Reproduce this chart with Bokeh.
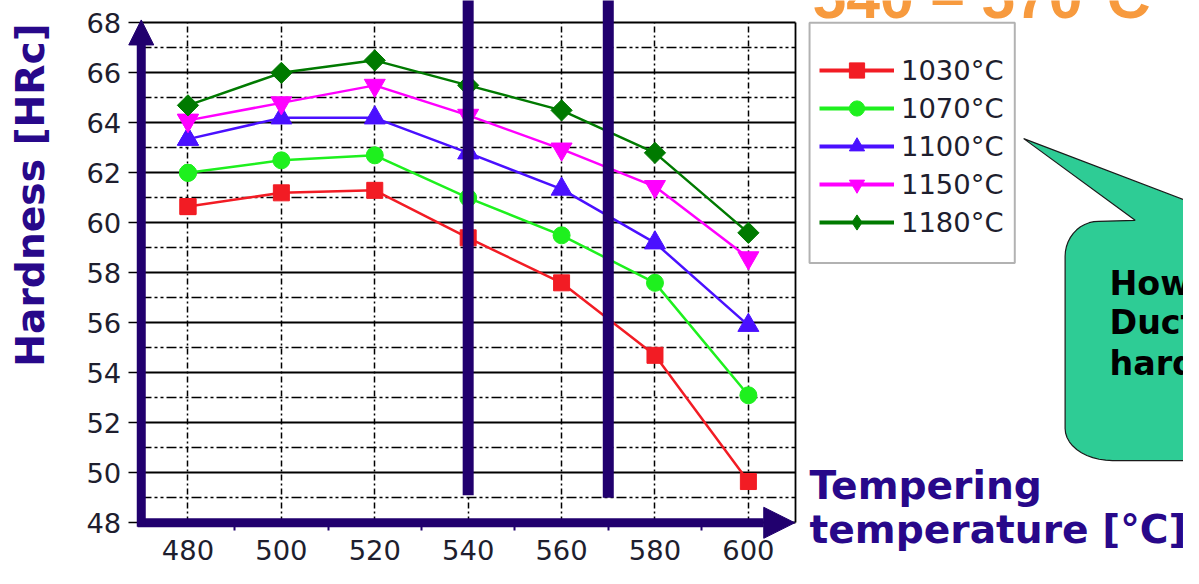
import numpy as np
from bokeh.plotting import figure
from bokeh.models import (Range1d, FixedTicker, Grid, Legend, LegendItem, Label,
                          BoxAnnotation, Arrow, NormalHead, CDSView, IndexFilter,
                          ColumnDataSource)
from bokeh.embed import file_html
from bokeh.resources import INLINE

# ---------------- data ----------------
temps = [480, 500, 520, 540, 560, 580, 600]
h_1030 = [60.65, 61.2, 61.3, 59.4, 57.6, 54.7, 49.65]
h_1070 = [62.0, 62.5, 62.7, 61.0, 59.5, 57.6, 53.1]
h_1100 = [63.35, 64.2, 64.2, 62.8, 61.35, 59.2, 55.9]
h_1150 = [64.1, 64.8, 65.5, 64.3, 62.95, 61.45, 58.6]
h_1180 = [64.7, 66.0, 66.5, 65.5, 64.5, 62.8, 59.6]
series_labels = ["1030°C", "1070°C", "1100°C", "1150°C", "1180°C"]

x_ticks = [480, 500, 520, 540, 560, 580, 600]
x_minor = [490, 510, 530, 550, 570, 590]
y_ticks = [48, 50, 52, 54, 56, 58, 60, 62, 64, 66, 68]
y_minor = [49, 51, 53, 55, 57, 59, 61, 63, 65, 67]

window_x = [540, 570]
window_bottom = [49.1, 49.0]

title_text = "540 – 570°C"
bubble_lines = ["How", "Duct", "hard"]
y_label = "Hardness [HRc]"
x_label_lines = ["Tempering", "temperature [°C]"]

# ---------------- layout helpers ----------------
# reference picture is 1199x584; the figure is scaled down to fit the window
REF_W, REF_H = 1199, 584
W, H = 1183, 568
SX, SY = W / REF_W, H / REF_H
S = (SX + SY) / 2
X_LO, X_HI, Y_LO, Y_HI = 470, 610, 48, 68
# mapping of data to reference-picture pixels
X_REF, X_REF_PX, PX_PER_X = 480, 190, 568 / 120
Y_REF, Y_REF_PX, PX_PER_Y = 68, 23, 25.7
BASE_SHIFT = 0.35  # anchor offset (in em) of a label's baseline


def fx(px):
    return X_REF + (px - X_REF_PX) / PX_PER_X


def fy(py):
    return Y_REF - (py - Y_REF_PX) / PX_PER_Y


def fs(px):
    return f"{px * S:.1f}px"


NAVY = "#21006e"
TEXT_NAVY = "#28088a"
TICK_TXT = "#1e1e2e"
TICK_FONT = "DejaVu Sans"

p = figure(width=W, height=H,
           x_range=Range1d(fx(0), fx(REF_W)), y_range=Range1d(fy(REF_H), fy(0)),
           output_backend="svg", toolbar_location=None,
           min_border_left=0, min_border_right=0, min_border_top=0, min_border_bottom=0,
           outline_line_color=None, background_fill_color="white")

# ---------------- axes ----------------
p.xaxis.fixed_location = Y_LO
p.xaxis.ticker = FixedTicker(ticks=x_ticks, minor_ticks=x_minor)
p.xaxis.axis_line_color = None
p.xaxis.major_tick_out = 0
p.xaxis.major_tick_in = 0
p.xaxis.minor_tick_out = 8
p.xaxis.minor_tick_in = 0
p.xaxis.minor_tick_line_color = NAVY
p.xaxis.minor_tick_line_width = 2
p.xaxis.major_label_standoff = 9
p.xaxis.major_label_text_font = TICK_FONT
p.xaxis.major_label_text_font_size = fs(28)
p.xaxis.major_label_text_color = TICK_TXT

p.yaxis.fixed_location = X_LO
p.yaxis.ticker = FixedTicker(ticks=y_ticks)
p.yaxis.axis_line_color = None
p.yaxis.major_tick_out = 13
p.yaxis.major_tick_in = 0
p.yaxis.major_tick_line_color = "black"
p.yaxis.major_tick_line_width = 1.5
p.yaxis.minor_tick_out = 0
p.yaxis.minor_tick_in = 0
p.yaxis.major_label_standoff = 7
p.yaxis.major_label_text_font = TICK_FONT
p.yaxis.major_label_text_font_size = fs(28)
p.yaxis.major_label_text_color = TICK_TXT

# ---------------- grids ----------------
p.xgrid.ticker = FixedTicker(ticks=x_ticks)
p.xgrid.grid_line_color = "black"
p.xgrid.grid_line_width = 1.5
p.xgrid.grid_line_dash = "6 3 2 3"
p.xgrid.cross_bounds = (Y_LO, Y_HI)

p.ygrid.ticker = FixedTicker(ticks=y_ticks, minor_ticks=y_minor)
p.ygrid.grid_line_color = "black"
p.ygrid.grid_line_width = 1.8
p.ygrid.minor_grid_line_color = "black"
p.ygrid.minor_grid_line_width = 1.5
p.ygrid.minor_grid_line_dash = "10 3 3 3 3 3"
p.ygrid.cross_bounds = (X_LO, X_HI)

border = Grid(dimension=0, ticker=FixedTicker(ticks=[X_HI]), grid_line_color="black",
              grid_line_width=1.8, cross_bounds=(Y_LO, Y_HI))
p.add_layout(border)

# ---------------- series ----------------
colors = ["#f21c24", "#1ef01e", "#4a10ff", "#ff00ff", "#007a00"]
markers = ["square", "circle", "triangle", "inverted_triangle", "square"]
legend_markers = ["square", "circle", "triangle", "inverted_triangle", "diamond"]
sizes = [16, 17, 21, 21, 15]
angles = [0, 0, 0, 0, np.pi / 4]
series = [h_1030, h_1070, h_1100, h_1150, h_1180]

items = []
for ys, lbl, c, m, lm, s, a in zip(series, series_labels, colors, markers,
                                   legend_markers, sizes, angles):
    src = ColumnDataSource(dict(x=temps, y=ys))
    p.line("x", "y", source=src, line_color=c, line_width=2.5)
    # legend proxies: thicker line and upright marker, restricted to the first
    # point so they stay hidden in the plot itself
    pl = p.line("x", "y", source=src, view=CDSView(filter=IndexFilter([0])),
                line_color=c, line_width=4)
    ps = p.scatter("x", "y", source=src, view=CDSView(filter=IndexFilter([0])),
                   marker=lm, size=s, fill_color=c, line_color=c)
    p.scatter("x", "y", source=src, marker=m, size=s, angle=a, fill_color=c, line_color=c)
    items.append(LegendItem(label=lbl, renderers=[pl, ps]))

# tempering window bars (drawn over the series)
p.segment(x0=window_x, y0=window_bottom, x1=window_x, y1=[fy(-40)] * len(window_x),
          line_color=NAVY, line_width=11)

# ---------------- axis arrows ----------------
p.add_layout(Arrow(end=NormalHead(size=31, fill_color=NAVY, line_color=NAVY),
                   x_start=fx(139), y_start=Y_LO, x_end=fx(805), y_end=Y_LO,
                   line_color=NAVY, line_width=9))
p.add_layout(Arrow(end=NormalHead(size=25, fill_color=NAVY, line_color=NAVY),
                   x_start=X_LO, y_start=fy(541), x_end=X_LO, y_end=fy(20),
                   line_color=NAVY, line_width=9))

# ---------------- legend ----------------
p.add_layout(BoxAnnotation(left=fx(820), right=fx(1028), top=fy(23), bottom=fy(270),
                           fill_color="white", fill_alpha=1.0,
                           line_color="black", line_width=2))
GLYPH_H = 38
first_center = 72 * SY
leg_top = first_center - GLYPH_H / 2
leg_h = 5 * GLYPH_H
legend = Legend(items=items, location=(round(830 * SX), round(H - (leg_top + leg_h))),
                orientation="vertical",
                padding=0, margin=0, spacing=0,
                glyph_width=round(76 * SX), glyph_height=GLYPH_H,
                label_height=30, label_standoff=7,
                label_text_font=TICK_FONT, label_text_font_size=fs(28),
                label_text_color=TICK_TXT,
                border_line_color=None, background_fill_alpha=0)
p.add_layout(legend)

# ---------------- speech bubble ----------------
pts = [(1037, 142), (1210, 209), (1210, 473), (1127, 473)]
t = np.linspace(np.pi / 2, np.pi, 12)
pts += [(1127 + 48 * np.cos(a), 440 + 33 * np.sin(a)) for a in t]
pts += [(1079, 263)]
t = np.linspace(np.pi, 1.5 * np.pi, 12)
pts += [(1113 + 34 * np.cos(a), 263 + 36 * np.sin(a)) for a in t]
pts += [(1150, 226)]
p.patch([fx(a) for a, b in pts], [fy(b) for a, b in pts],
        fill_color="#2ecc95", line_color="#1a1a1a", line_width=1.2)


def text_label(txt, left, baseline, size, color, font="DejaVu Sans"):
    return Label(x=fx(left), y=fy(baseline - BASE_SHIFT * size), text=txt,
                 text_align="left", text_baseline="alphabetic", text_font=font,
                 text_font_style="bold", text_font_size=fs(size), text_color=color)


for txt, base in zip(bubble_lines, [303, 343, 385]):
    p.add_layout(text_label(txt, 1124, base, 34, "black"))

# ---------------- texts ----------------
p.add_layout(text_label(title_text, 823, 18.5, 62, "#f79a3e", font="Liberation Sans"))

p.add_layout(Label(x=fx(30), y=fy(200), text=y_label, angle=np.pi / 2,
                   text_align="center", text_baseline="middle", text_font="DejaVu Sans",
                   text_font_style="bold", text_font_size=fs(40), text_color=TEXT_NAVY))

for txt, base in zip(x_label_lines, [513, 558]):
    p.add_layout(text_label(txt, 820, base, 40, TEXT_NAVY))

open("out.html", "w").write(file_html(p, INLINE))
